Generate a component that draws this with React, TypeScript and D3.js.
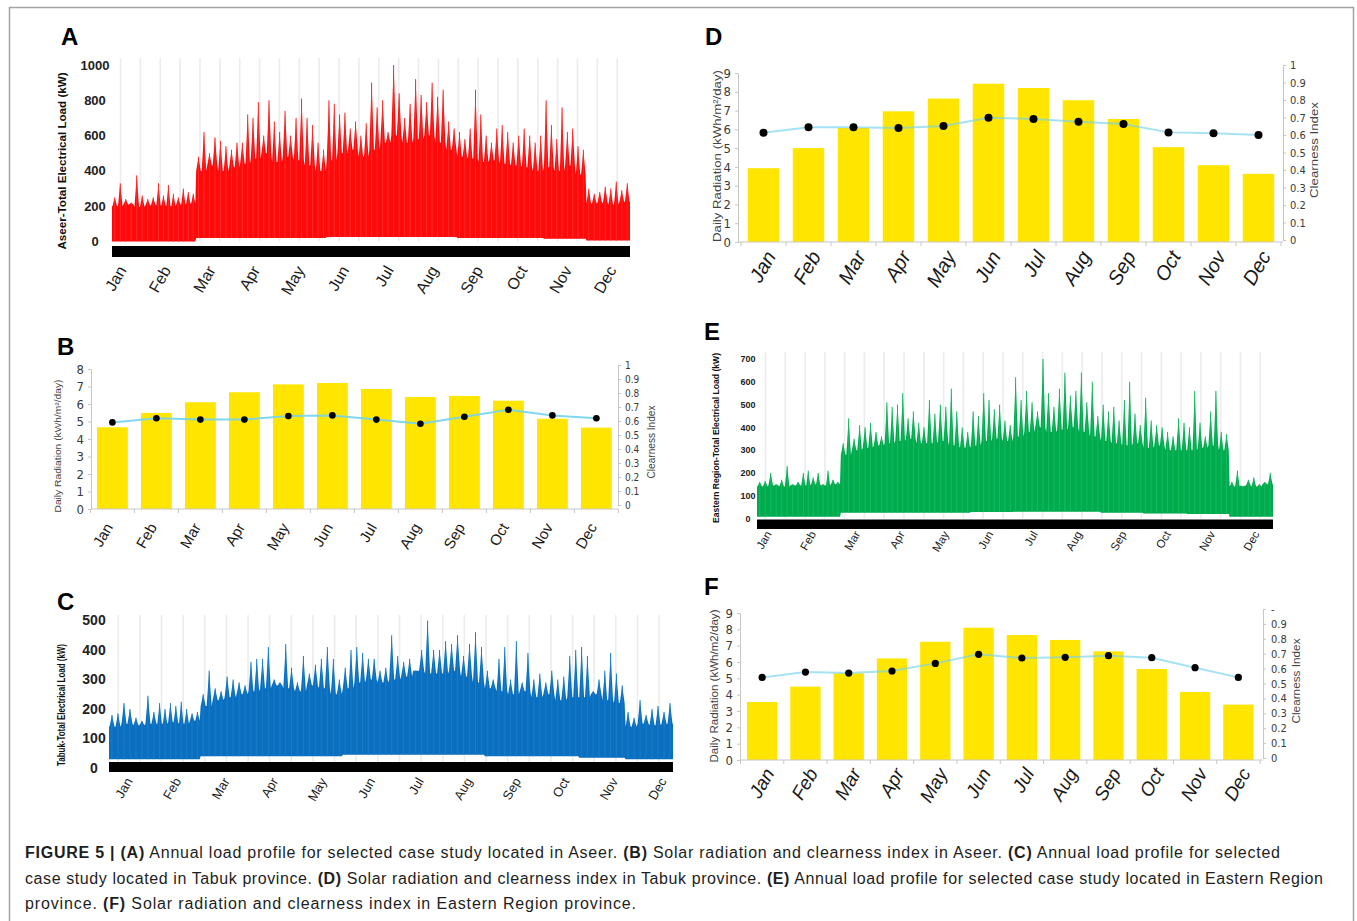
import React, { useEffect, useRef } from "react";
import * as d3 from "d3";

const months = ["Jan", "Feb", "Mar", "Apr", "May", "Jun", "Jul", "Aug", "Sep", "Oct", "Nov", "Dec"];
const monthDays = [31, 28, 31, 30, 31, 30, 31, 31, 30, 31, 30, 31];

// hourly load profiles, read off the picture as 8 peaks + 4 typical daily maxima per month (kW)
const aseerPeaks = [
  250, 330, 240, 220, 375, 260, 240, 250,
  330, 260, 320, 270, 250, 300, 280, 270,
  480, 620, 500, 590, 570, 540, 520, 560,
  560, 720, 700, 790, 600, 800, 680, 620,
  740, 600, 700, 810, 700, 660, 560, 520,
  800, 780, 720, 730, 640, 680, 600, 670,
  900, 760, 800, 620, 1000, 840, 700, 780,
  920, 830, 790, 900, 820, 860, 680, 640,
  620, 580, 640, 860, 720, 600, 560, 640,
  660, 620, 560, 600, 640, 600, 560, 600,
  800, 660, 580, 760, 620, 640, 540, 520,
  300, 270, 280, 310, 300, 340, 290, 330,
];
const aseerBody = [
  200, 210, 195, 205, 205, 200, 210, 215, 400, 430, 400, 420, 440, 470, 500, 450,
  480, 460, 430, 400, 460, 500, 520, 480, 520, 560, 600, 560, 580, 600, 560, 520,
  480, 470, 450, 460, 440, 430, 420, 400, 420, 400, 430, 380, 215, 220, 210, 225,
];
const aseerBase = [0, 0, 20, 20, 20, 25, 25, 25, 20, 20, 15, 5];

const tabukPeaks = [
  180, 185, 220, 200, 170, 160, 245, 190,
  220, 200, 220, 210, 225, 200, 185, 190,
  250, 330, 270, 260, 310, 300, 290, 280,
  360, 370, 370, 410, 300, 290, 420, 340,
  290, 380, 320, 350, 370, 410, 370, 300,
  340, 400, 410, 390, 370, 370, 330, 340,
  450, 380, 360, 370, 330, 400, 500, 400,
  400, 430, 420, 450, 380, 420, 460, 410,
  330, 300, 370, 410, 300, 430, 290, 390,
  300, 320, 290, 330, 300, 310, 380, 400,
  410, 380, 260, 300, 330, 390, 320, 280,
  190, 170, 230, 180, 200, 210, 190, 220,
];
const tabukBody = [
  140, 150, 145, 150, 150, 155, 150, 160, 210, 230, 240, 250, 260, 270, 280, 270,
  260, 280, 270, 250, 270, 290, 300, 290, 300, 310, 330, 320, 320, 330, 310, 290,
  270, 260, 250, 260, 240, 250, 230, 240, 240, 250, 230, 220, 140, 150, 145, 150,
];
const tabukBase = [30, 30, 40, 40, 40, 45, 45, 45, 40, 40, 35, 30];

const easternPeaks = [
  160, 165, 200, 150, 170, 230, 150, 160,
  200, 210, 180, 200, 150, 210, 170, 160,
  330, 440, 350, 410, 400, 420, 380, 360,
  510, 490, 500, 550, 440, 470, 420, 400,
  520, 460, 500, 490, 570, 470, 400, 380,
  470, 450, 550, 520, 480, 500, 430, 410,
  620, 520, 560, 510, 470, 700, 550, 490,
  570, 640, 540, 560, 640, 510, 600, 450,
  500, 470, 490, 430, 520, 600, 460, 410,
  530, 430, 410, 400, 380, 360, 440, 420,
  400, 560, 420, 360, 470, 560, 380, 370,
  160, 210, 140, 170, 180, 150, 160, 200,
];
const easternBody = [
  140, 145, 140, 145, 145, 150, 145, 150, 280, 300, 310, 320, 330, 340, 350, 330,
  330, 340, 320, 310, 320, 340, 350, 340, 360, 380, 400, 380, 390, 400, 380, 360,
  340, 330, 320, 330, 310, 320, 300, 300, 300, 310, 320, 300, 140, 145, 140, 150,
];
const easternBase = [8, 8, 25, 25, 25, 28, 30, 30, 25, 22, 20, 8];

// monthly daily radiation (kWh/m2/day) and clearness index
const aseerRadiation = [4.67, 5.49, 6.1, 6.67, 7.12, 7.2, 6.86, 6.4, 6.46, 6.19, 5.16, 4.65];
const aseerClearness = [0.59, 0.62, 0.61, 0.61, 0.635, 0.64, 0.61, 0.58, 0.63, 0.68, 0.64, 0.62];
const tabukRadiation = [3.93, 5.0, 6.07, 6.96, 7.64, 8.43, 8.2, 7.55, 6.55, 5.05, 4.09, 3.63];
const tabukClearness = [0.613, 0.644, 0.644, 0.64, 0.651, 0.699, 0.691, 0.676, 0.663, 0.615, 0.61, 0.6];
const easternRadiation = [3.55, 4.49, 5.31, 6.22, 7.24, 8.1, 7.65, 7.35, 6.65, 5.57, 4.16, 3.39];
const easternClearness = [0.541, 0.577, 0.57, 0.584, 0.635, 0.696, 0.671, 0.676, 0.687, 0.673, 0.606, 0.541];

const captionLines: [string, boolean][][] = [
  [["FIGURE 5 | (A)", true], [" Annual load profile for selected case study located in Aseer. ", false], ["(B)", true],
   [" Solar radiation and clearness index in Aseer. ", false], ["(C)", true], [" Annual load profile for selected", false]],
  [["case study located in Tabuk province. ", false], ["(D)", true], [" Solar radiation and clearness index in Tabuk province. ", false],
   ["(E)", true], [" Annual load profile for selected case study located in Eastern Region", false]],
  [["province. ", false], ["(F)", true], [" Solar radiation and clearness index in Eastern Region province.", false]],
];

const SANS = "'Liberation Sans', Arial, sans-serif";
const NARROW = "'Liberation Sans Narrow', 'DejaVu Sans Condensed', sans-serif";

function drawLoad(svg: any, c: any) {
  const g = svg.append("g");
  const starts = months.map((_, i) => d3.sum(monthDays.slice(0, i)));
  const x = d3.scaleLinear().domain([0, 365]).range([c.x0, c.x1]);
  const y = d3.scaleLinear().domain([0, c.yMax]).range([c.yZero, c.yTop]);

  // faint stripes behind the series
  g.selectAll("line.grid").data(d3.range(6, 365, 14)).join("line")
    .attr("x1", (d: number) => x(d)).attr("x2", (d: number) => x(d))
    .attr("y1", c.gridTop).attr("y2", c.yZero)
    .attr("stroke", "#ececec").attr("stroke-width", 1.6);

  const per = c.peaks.length / 12;
  const bodyPer = c.body.length / 12;
  const spikes = c.peaks.map((p: number, i: number) => {
    const m = Math.floor(i / per), j = i % per;
    return {
      day: starts[m] + (j + 0.5) * monthDays[m] / per,
      peak: p,
      body: c.body[m * bodyPer + Math.floor((j * bodyPer) / per)],
      base: c.base[m],
      half: (monthDays[m] / per) * 0.42,
    };
  });
  const outline: any[] = [{ d: 0, top: spikes[0].body, base: spikes[0].base }];
  spikes.forEach((s: any) => {
    outline.push({ d: s.day - s.half, top: s.body, base: s.base });
    outline.push({ d: s.day, top: s.peak, base: s.base });
    outline.push({ d: s.day + s.half, top: s.body, base: s.base });
  });
  const last = spikes[spikes.length - 1];
  outline.push({ d: 365, top: last.body, base: last.base });

  const area = d3.area<any>().x(d => x(d.d)).y0(d => y(d.base)).y1(d => y(d.top));
  g.append("path").attr("d", area(outline)).attr("fill", c.color);
  g.selectAll("line.spike").data(spikes).join("line")
    .attr("x1", (d: any) => x(d.day)).attr("x2", (d: any) => x(d.day))
    .attr("y1", (d: any) => y(d.base)).attr("y2", (d: any) => y(d.peak))
    .attr("stroke", c.spike).attr("stroke-width", 1);

  g.append("rect").attr("x", c.x0).attr("y", c.barY)
    .attr("width", c.x1 - c.x0).attr("height", c.barH).attr("fill", "#000");

  g.selectAll("text.tick").data(c.ticks).join("text")
    .attr("x", c.tickX).attr("y", (d: number) => y(d)).attr("dy", "0.35em")
    .attr("text-anchor", "middle").attr("fill", "#222")
    .style("font", `bold ${c.tickFont}px ${SANS}`)
    .text((d: number) => d);

  g.append("text")
    .attr("transform", `translate(${c.titleX},${c.titleY}) rotate(-90)`)
    .attr("text-anchor", "middle").attr("fill", "#111")
    .attr("textLength", c.titleLen).attr("lengthAdjust", "spacingAndGlyphs")
    .style("font", `bold ${c.titleFont}px ${SANS}`)
    .text(c.title);

  const mx = d3.scalePoint().domain(months).range(c.monthRange);
  g.selectAll("text.month").data(months).join("text")
    .attr("x", (d: string) => mx(d)).attr("y", c.monthY)
    .attr("transform", (d: string) => `rotate(-60,${mx(d)},${c.monthY})`)
    .attr("text-anchor", "end").attr("fill", "#1c1c1c")
    .style("font", `${c.monthFont}px ${SANS}`)
    .text((d: string) => d);

  g.append("text").attr("x", c.letter[0]).attr("y", c.letter[1])
    .style("font", `bold 24px ${SANS}`).attr("fill", "#000").text(c.letter[2]);
}

function drawRadiation(svg: any, c: any) {
  const g = svg.append("g");
  const x = d3.scaleBand().domain(months).range([c.x0, c.x1]).paddingInner(0.3).paddingOuter(0.15);
  const yL = d3.scaleLinear().domain([0, c.maxL]).range(c.yL);
  const yR = d3.scaleLinear().domain([0, 1]).range(c.yR);
  const bw = x.bandwidth();
  const cx = (m: string) => (x(m) as number) + bw / 2;

  g.selectAll("rect.bar").data(c.radiation).join("rect")
    .attr("x", (_: number, i: number) => x(months[i]))
    .attr("y", (d: number) => yL(d))
    .attr("width", bw).attr("height", (d: number) => yL(0) - yL(d))
    .attr("fill", "#ffe500");

  const axisColor = "#c6c6c6";
  const left = g.append("g").attr("transform", `translate(${c.leftAxisX},0)`)
    .call(d3.axisLeft(yL).ticks(c.maxL).tickSize(3).tickSizeOuter(0).tickPadding(4));
  const right = g.append("g").attr("transform", `translate(${c.rightAxisX},0)`)
    .call(d3.axisRight(yR).tickValues(d3.range(0, 11).map(i => i / 10)).tickSize(3).tickSizeOuter(0)
      .tickPadding(c.rightPad).tickFormat((d: any) => (d === 1 ? c.topRight : String(+d.toFixed(1)))));
  [left, right].forEach(a => {
    a.select(".domain").attr("stroke", axisColor);
    a.selectAll(".tick line").attr("stroke", axisColor);
  });
  left.selectAll(".tick text").attr("fill", "#3a3a3a").style("font", `${c.leftTickFont}px ${NARROW}`);
  right.selectAll(".tick text").attr("fill", "#3a3a3a").style("font", `${c.rightTickFont}px ${NARROW}`);

  const step = x.step();
  g.append("line").attr("x1", c.leftAxisX).attr("x2", c.rightAxisX)
    .attr("y1", yL(0)).attr("y2", yL(0)).attr("stroke", axisColor);
  g.selectAll("line.xt").data(d3.range(0, 13)).join("line")
    .attr("x1", (i: number) => c.x0 + i * step).attr("x2", (i: number) => c.x0 + i * step)
    .attr("y1", yL(0)).attr("y2", yL(0) + 4).attr("stroke", axisColor);

  const line = d3.line<number>().x((_, i) => cx(months[i])).y(d => yR(d));
  g.append("path").attr("d", line(c.clearness)).attr("fill", "none")
    .attr("stroke", "#74d3ee").attr("stroke-width", 2).attr("stroke-opacity", c.lineOpacity);
  g.selectAll("circle.k").data(c.clearness).join("circle")
    .attr("cx", (_: number, i: number) => cx(months[i])).attr("cy", (d: number) => yR(d))
    .attr("r", c.dotR).attr("fill", "#000");

  g.append("text")
    .attr("transform", `translate(${c.leftTitle[1]},${c.leftTitle[2]}) rotate(-90)`)
    .attr("text-anchor", "middle").attr("fill", "#444")
    .attr("textLength", c.leftTitle[4]).attr("lengthAdjust", "spacingAndGlyphs")
    .style("font", `${c.leftTitle[3]}px ${SANS}`).text(c.leftTitle[0]);
  g.append("text")
    .attr("transform", `translate(${c.rightTitle[0]},${c.rightTitle[1]}) rotate(-90)`)
    .attr("text-anchor", "middle").attr("fill", "#444")
    .attr("textLength", c.rightTitle[3]).attr("lengthAdjust", "spacingAndGlyphs")
    .style("font", `${c.rightTitle[2]}px ${SANS}`).text("Clearness Index");

  g.selectAll("text.month").data(months).join("text")
    .attr("x", (d: string) => cx(d) + c.monthOffset).attr("y", c.monthY)
    .attr("transform", (d: string) => `rotate(-60,${cx(d) + c.monthOffset},${c.monthY})`)
    .attr("text-anchor", "end").attr("fill", "#1a1a1a")
    .style("font", `${c.italic ? "italic " : ""}${c.monthFont}px ${SANS}`)
    .text((d: string) => d);

  g.append("text").attr("x", c.letter[0]).attr("y", c.letter[1])
    .style("font", `bold 24px ${SANS}`).attr("fill", "#000").text(c.letter[2]);
}

const App = () => {
  const ref = useRef<SVGSVGElement>(null);

  useEffect(() => {
    const svg = d3.select(ref.current);
    svg.selectAll("*").remove();

    svg.append("rect").attr("x", 9.5).attr("y", 7.5).attr("width", 1344).attr("height", 940)
      .attr("fill", "none").attr("stroke", "#a3a3a3").attr("stroke-width", 1.5);

    drawLoad(svg, {
      peaks: aseerPeaks, body: aseerBody, base: aseerBase, color: "#ff0a0a", spike: "#ff2a2a",
      x0: 112, x1: 630, yZero: 241.5, yTop: 65, yMax: 1000, ticks: d3.range(0, 1001, 200),
      gridTop: 58, barY: 246, barH: 11, tickX: 95, tickFont: 13,
      title: "Aseer-Total Electrical Load (kW)", titleX: 66, titleY: 161, titleLen: 177, titleFont: 11,
      monthRange: [127, 617], monthY: 270, monthFont: 16, letter: [61, 45, "A"],
    });
    drawLoad(svg, {
      peaks: tabukPeaks, body: tabukBody, base: tabukBase, color: "#0b6fbf", spike: "#1a7ccb",
      x0: 109, x1: 673, yZero: 768, yTop: 620.5, yMax: 500, ticks: d3.range(0, 501, 100),
      gridTop: 615, barY: 762, barH: 10, tickX: 94, tickFont: 14,
      title: "Tabuk-Total Electrical Load (kW)", titleX: 65, titleY: 705, titleLen: 122, titleFont: 10,
      monthRange: [133, 667], monthY: 781, monthFont: 13, letter: [57, 610, "C"],
    });
    drawLoad(svg, {
      peaks: easternPeaks, body: easternBody, base: easternBase, color: "#00ab4e", spike: "#16b862",
      x0: 757, x1: 1273, yZero: 518.5, yTop: 359, yMax: 700, ticks: d3.range(0, 701, 100),
      gridTop: 352, barY: 519.5, barH: 9.5, tickX: 748, tickFont: 9,
      title: "Eastern Region-Total Electrical Load (kW)", titleX: 719, titleY: 438, titleLen: 170, titleFont: 9,
      monthRange: [772, 1260], monthY: 534, monthFont: 11.5, letter: [704, 340, "E"],
    });

    drawRadiation(svg, {
      radiation: aseerRadiation, clearness: aseerClearness,
      x0: 90.4, x1: 618.4, maxL: 8, yL: [509, 369], yR: [505, 365],
      leftAxisX: 91, rightAxisX: 618, rightPad: 4, topRight: "1",
      leftTickFont: 13, rightTickFont: 10, lineOpacity: 0.9, dotR: 3.3,
      leftTitle: ["Daily Radiation (kWh/m²/day)", 61, 446, 8.5, 133],
      rightTitle: [655, 442, 10.5, 73],
      monthOffset: 1, monthY: 527, monthFont: 15, italic: false, letter: [57, 355, "B"],
    });
    drawRadiation(svg, {
      radiation: tabukRadiation, clearness: tabukClearness,
      x0: 741, x1: 1281, maxL: 9, yL: [242, 73], yR: [240, 65],
      leftAxisX: 738, rightAxisX: 1283, rightPad: 4, topRight: "1",
      leftTickFont: 13, rightTickFont: 11, lineOpacity: 0.65, dotR: 4,
      leftTitle: ["Daily Radiation (kWh/m²/day)", 721, 156, 11, 172],
      rightTitle: [1318, 150, 11.5, 96],
      monthOffset: 13, monthY: 256, monthFont: 20, italic: true, letter: [705, 45, "D"],
    });
    drawRadiation(svg, {
      radiation: easternRadiation, clearness: easternClearness,
      x0: 740.5, x1: 1260, maxL: 9, yL: [760, 613], yR: [758, 609],
      leftAxisX: 740, rightAxisX: 1263, rightPad: 5, topRight: "-",
      leftTickFont: 13, rightTickFont: 11, lineOpacity: 0.65, dotR: 3.6,
      leftTitle: ["Daily Radiation (kWh/m2/day)", 718, 686, 11, 153],
      rightTitle: [1300, 681, 11.5, 85],
      monthOffset: 13, monthY: 773, monthFont: 19, italic: true, letter: [704, 595, "F"],
    });

    // caption
    const lens = [1255, 1298, 611];
    captionLines.forEach((parts, li) => {
      const t = svg.append("text").attr("x", 25).attr("y", 858 + li * 25.5)
        .attr("textLength", lens[li]).attr("lengthAdjust", "spacing")
        .attr("fill", "#1e1e1e").style("font", `16px ${SANS}`).style("white-space", "pre");
      parts.forEach(([txt, bold]) => {
        t.append("tspan").attr("font-weight", bold ? "bold" : "normal").text(txt);
      });
    });
  }, []);

  return (
    <svg ref={ref} width={1357} height={921}
      style={{ position: "absolute", left: 0, top: 0, background: "#fff" }} />
  );
};

export default App;
